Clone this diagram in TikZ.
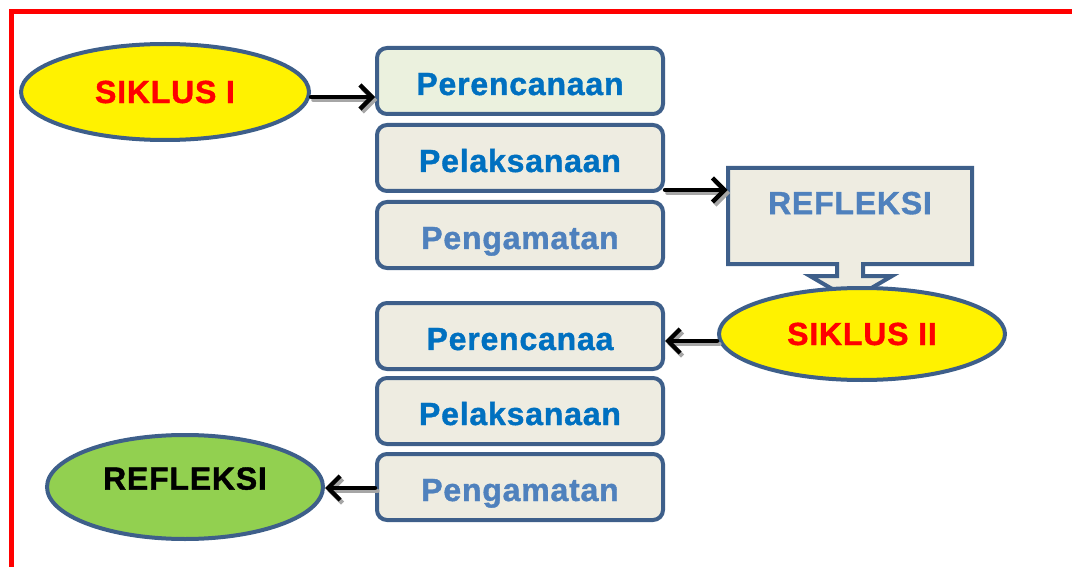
\documentclass[tikz,border=0pt]{standalone}
\usepackage{fontspec}
\setmainfont{Liberation Sans}
\newfontfamily\tebal{Liberation Sans}[FakeBold=1.2,LetterSpace=2.5]
\usetikzlibrary{shapes.geometric,arrows.meta}
\definecolor{garis}{HTML}{3E5F8A}
\definecolor{krem}{HTML}{EEECE1}
\definecolor{hijaumuda}{HTML}{EBF1DE}
\definecolor{biru}{HTML}{0070C0}
\definecolor{birumuda}{HTML}{4F81BD}
\definecolor{hijau}{HTML}{92D050}
\newcommand{\huruf}{\tebal\fontsize{16}{19}\selectfont\bfseries}
\tikzset{
  kotak/.style={draw=garis, line width=2pt, rounded corners=5pt, fill=krem,
    minimum width=143pt, minimum height=33pt, inner sep=0pt, font=\huruf, text=biru,
    text height=14pt, text depth=0pt},
  elips/.style={ellipse, draw=garis, line width=2pt, inner sep=0pt, font=\huruf},
  panah/.style={line width=2.2pt, line cap=round, -{Straight Barb[length=6pt,width=12pt]}},
  bayang/.style={panah, draw=black!35, transform canvas={shift={(1.2pt,-1.5pt)}}}
}
\begin{document}
\begin{tikzpicture}[x=0.5pt,y=-0.5pt]
  \useasboundingbox (0,0) rectangle (1072,567);
  \draw[red, line width=2.5pt] (11,567) -- (11,12) -- (1072,12);

  \node[elips, fill=yellow, text=red, minimum width=144pt, minimum height=48pt] (siklus1) at (165,92) {SIKLUS I};
  \node[kotak, fill=hijaumuda] (ren1) at (520,81) {Perencanaan};
  \node[kotak] (lak1) at (520,158) {Pelaksanaan};
  \node[kotak, text=birumuda] (amat1) at (520,235) {Pengamatan};

  \draw[garis, line width=2pt, fill=krem] (728,168) -- (972,168) -- (972,264) -- (863,264) -- (863,276)
    -- (892,276) -- (851,300) -- (810,276) -- (837,276) -- (837,264) -- (728,264) -- cycle;
  \node[font=\huruf, text=birumuda, minimum width=122pt, minimum height=48pt, text depth=13pt] (refleksi1) at (850,216) {REFLEKSI};

  \node[elips, fill=yellow, text=red, minimum width=143pt, minimum height=46pt] (siklus2) at (862,334) {SIKLUS II};
  \node[kotak] (ren2) at (520,336) {Perencanaa};
  \node[kotak] (lak2) at (520,411) {Pelaksanaan};
  \node[kotak, text=birumuda] (amat2) at (520,487) {Pengamatan};
  \node[elips, fill=hijau, text=black, minimum width=138pt, minimum height=52pt,
    text height=11.6pt, text depth=9pt] (refleksi2) at (185,487) {REFLEKSI};

  \draw[bayang] (siklus1.east |- 0,97) -- (ren1.west |- 0,97);
  \draw[panah] (siklus1.east |- 0,97) -- (ren1.west |- 0,97);
  \draw[bayang] (lak1.east |- 0,190) -- (refleksi1.west |- 0,190);
  \draw[panah] (lak1.east |- 0,190) -- (refleksi1.west |- 0,190);
  \draw[bayang] (siklus2.west |- 0,341) -- (ren2.east |- 0,341);
  \draw[panah] (siklus2.west |- 0,341) -- (ren2.east |- 0,341);
  \draw[bayang] (amat2.west |- 0,488) -- (refleksi2.east |- 0,488);
  \draw[panah] (amat2.west |- 0,488) -- (refleksi2.east |- 0,488);
\end{tikzpicture}
\end{document}
